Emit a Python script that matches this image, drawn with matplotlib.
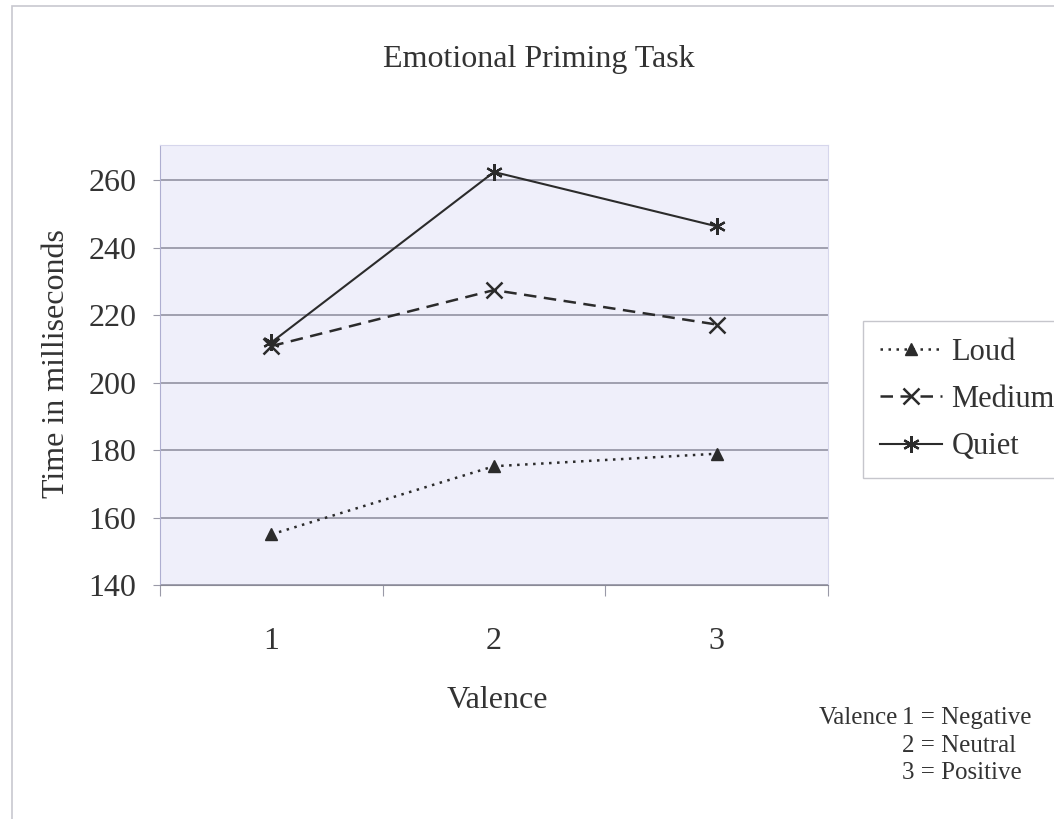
import matplotlib.pyplot as plt
from matplotlib.patches import Rectangle
from matplotlib.ticker import FixedLocator, NullFormatter

# Valence categories (1 = negative, 2 = neutral, 3 = positive)
valence = [1, 2, 3]

# Mean response time (ms) per volume condition
loud = [155.0, 175.2, 178.9]
medium = [210.8, 227.4, 217.2]
quiet = [211.9, 262.4, 246.3]

y_ticks = [140, 160, 180, 200, 220, 240, 260]

TEXT = "#333333"
FS = 23
plt.rcParams["font.family"] = ["Liberation Serif", "DejaVu Serif"]

fig = plt.figure(figsize=(10.54, 8.19), dpi=100)
fig.patch.set_facecolor("white")

# outer chart frame
fig.patches.append(Rectangle((12 / 1054, -0.05), 1.1, 1 - 6 / 819 + 0.05,
                             transform=fig.transFigure, fill=False,
                             edgecolor="#c8c8d0", lw=1.2))

ax = fig.add_axes([160 / 1054, 1 - 585 / 819, 668 / 1054, 440 / 819])
ax.set_facecolor("#efeffa")

line_kw = dict(color="#2b2b2b", clip_on=False, zorder=3)
ax.plot(valence, loud, linestyle=(0, (1, 2.2)), lw=1.8, marker="^",
        markersize=9, label="Loud", **line_kw)
ax.plot(valence, medium, linestyle=(0, (5, 3)), lw=1.8, marker="x",
        markersize=11, markeredgewidth=1.8, label="Medium", **line_kw)
ax.plot(valence, quiet, linestyle="-", lw=1.5, marker=(6, 2, 0),
        markersize=12, markeredgewidth=1.6, label="Quiet", **line_kw)

ax.set_xlim(0.5, 3.5)
ax.set_ylim(140, 270.4)
ax.set_yticks(y_ticks)
ax.yaxis.grid(True, color="#8a8a9a", lw=1.1)
ax.set_axisbelow(True)

# category boundaries carry the tick marks, centres carry the labels
ax.xaxis.set_major_locator(FixedLocator([0.5, 1.5, 2.5, 3.5]))
ax.xaxis.set_major_formatter(NullFormatter())
ax.xaxis.set_minor_locator(FixedLocator(valence))
ax.set_xticklabels([str(v) for v in valence], minor=True)
ax.tick_params(axis="x", which="major", length=8, color="#9a9aa8")
ax.tick_params(axis="x", which="minor", length=0, pad=30,
               labelsize=FS, labelcolor=TEXT)
ax.tick_params(axis="y", length=5, pad=12, color="#9a9aa8",
               labelsize=FS, labelcolor=TEXT)

for side in ("top", "right"):
    ax.spines[side].set_color("#d6d6ec")
ax.spines["left"].set_color("#aeaed0")
ax.spines["bottom"].set_color("#8a8a96")

fig.text(539 / 1054, 1 - 60 / 819, "Emotional Priming Task", ha="center",
         va="center", fontsize=FS, color=TEXT)
fig.text(497 / 1054, 1 - 700 / 819, "Valence", ha="center", va="center",
         fontsize=FS, color=TEXT)
fig.text(57 / 1054, 1 - 364 / 819, "Time in milliseconds", ha="center",
         va="center", rotation=90, fontsize=FS, color=TEXT)

leg = fig.legend(loc="upper left", bbox_to_anchor=(863 / 1054, 1 - 321 / 819),
                 borderaxespad=0, fontsize=22, handlelength=2.05,
                 handletextpad=0.3, labelspacing=0.6, borderpad=0.55,
                 frameon=True, fancybox=False, labelcolor=TEXT)
leg.get_frame().set_edgecolor("#b8b8c0")
leg.get_frame().set_linewidth(1.0)

# valence coding note
note_x = 902 / 1054
fig.text(note_x - 4 / 1054, 1 - 718 / 819, "Valence", ha="right", va="center",
         fontsize=18, color=TEXT)
for y, txt in [(718, "1 = Negative"), (746, "2 = Neutral"), (773, "3 = Positive")]:
    fig.text(note_x, 1 - y / 819, txt, ha="left", va="center",
             fontsize=18, color=TEXT)

fig.savefig("out.png", dpi=100)
